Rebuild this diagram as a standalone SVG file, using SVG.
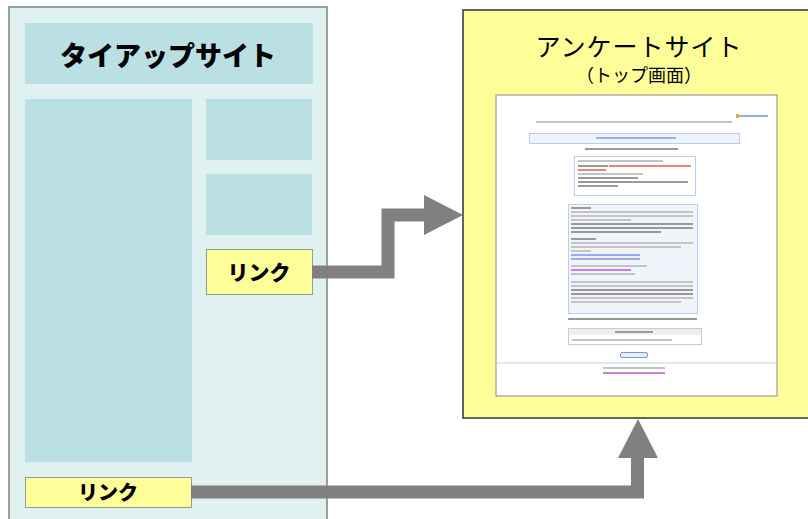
<svg xmlns="http://www.w3.org/2000/svg" width="808" height="519" viewBox="0 0 808 519">
<style>
.blk{fill:#BBE0E3}
.lnk{fill:#FFFF99;stroke:#999999;stroke-width:1}
.jb{font-family:"Noto Sans CJK JP","Noto Sans CJK SC",sans-serif;font-weight:900;fill:#000;text-anchor:middle}
.jr{font-family:"Noto Sans CJK JP","Noto Sans CJK SC",sans-serif;fill:#000;text-anchor:middle}
.conn{fill:none;stroke:#808080;stroke-width:13;stroke-linejoin:miter;stroke-linecap:butt}
.head{fill:#808080}
.tx{fill:#C4C4C4}
.txd{fill:#999999}
.txb{fill:#99AAEE}
.txr{fill:#F08080}
.txp{fill:#C880D8}
</style>
<rect width="808" height="519" fill="#FFFFFF"/>
<g id="tieup-site">
<rect x="9" y="7" width="318" height="520" fill="#DFF1F1" stroke="#808080" stroke-width="1.5"/>
<rect id="tieup-header" class="blk" x="25" y="23" width="288" height="61"/>
<text class="jb" x="168" y="66" font-size="27">タイアップサイト</text>
<rect id="tieup-main" class="blk" x="25" y="99" width="167" height="363"/>
<rect id="tieup-side1" class="blk" x="206" y="99" width="106" height="61"/>
<rect id="tieup-side2" class="blk" x="206" y="174" width="106" height="61"/>
</g>
<g id="link1">
<rect class="lnk" x="206.5" y="249.5" width="106" height="45"/>
<text class="jb" x="259" y="280" font-size="21">リンク</text>
</g>
<g id="link2">
<rect class="lnk" x="25.5" y="477.5" width="166" height="30"/>
<text class="jb" x="108" y="500" font-size="20">リンク</text>
</g>
<g id="survey-site">
<rect x="463" y="10" width="350" height="408" fill="#FFFF99" stroke="#333333" stroke-width="1.5"/>
<text class="jr" x="639" y="56" font-size="25" letter-spacing="1">アンケートサイト</text>
<text class="jr" x="639" y="82" font-size="18">（トップ画面）</text>
<g id="screenshot">
<rect x="496" y="95" width="281" height="301" fill="#FFFFFF" stroke="#888888" stroke-width="1"/>
<rect class="tx" x="536" y="121" width="196" height="2"/>
<rect x="738" y="115" width="30" height="2" fill="#99AADD"/>
<rect x="736" y="114" width="3" height="4" fill="#E0B030"/>
<rect x="529.5" y="133.5" width="210" height="10" fill="#EEF4FC" stroke="#BBCCEE" stroke-width="1"/>
<rect class="txb" x="596" y="137" width="80" height="2"/>
<rect class="txd" x="585" y="148" width="93" height="2"/>
<rect x="574.5" y="156.5" width="121" height="39" fill="#FFFFFF" stroke="#BBCCEE" stroke-width="1"/>
<rect class="tx" x="578" y="160" width="85" height="2"/>
<rect class="txd" x="578" y="165" width="30" height="2"/>
<rect class="txr" x="609" y="165" width="82" height="2"/>
<rect class="txr" x="578" y="169" width="28" height="2"/>
<rect class="tx" x="578" y="173" width="65" height="2"/>
<rect class="txd" x="578" y="177" width="60" height="2"/>
<rect class="txd" x="578" y="181" width="110" height="2"/>
<rect class="txd" x="578" y="185" width="40" height="2"/>
<rect x="568.5" y="204.5" width="129" height="109" fill="#F0F5FC" stroke="#BBCCEE" stroke-width="1"/>
<rect class="txd" x="571" y="207" width="20" height="2"/>
<rect class="tx" x="571" y="211" width="122" height="2"/>
<rect class="tx" x="571" y="215" width="122" height="2"/>
<rect class="tx" x="571" y="219" width="60" height="2"/>
<rect class="txd" x="571" y="223" width="122" height="2"/>
<rect class="txd" x="571" y="227" width="122" height="2"/>
<rect class="txd" x="571" y="231" width="90" height="2"/>
<rect class="txd" x="571" y="238" width="25" height="2"/>
<rect class="tx" x="571" y="242" width="122" height="2"/>
<rect class="tx" x="571" y="246" width="110" height="2"/>
<rect class="tx" x="571" y="250" width="20" height="2"/>
<rect class="txb" x="571" y="254" width="69" height="2"/>
<rect class="txb" x="571" y="258" width="69" height="2"/>
<rect class="tx" x="571" y="265" width="76" height="2"/>
<rect class="txp" x="571" y="269" width="60" height="2"/>
<rect class="tx" x="571" y="273" width="64" height="2"/>
<rect class="tx" x="571" y="281" width="122" height="2"/>
<rect class="tx" x="571" y="285" width="122" height="2"/>
<rect class="txd" x="571" y="289" width="122" height="2"/>
<rect class="txd" x="571" y="293" width="122" height="2"/>
<rect class="tx" x="571" y="297" width="122" height="2"/>
<rect class="tx" x="571" y="301" width="110" height="2"/>
<rect class="txd" x="568" y="318" width="129" height="2"/>
<rect x="568.5" y="328.5" width="133" height="16" fill="#FFFFFF" stroke="#CCCCCC" stroke-width="1"/>
<rect x="569" y="329" width="132" height="6" fill="#EEEEEE"/>
<rect class="txd" x="615" y="331" width="38" height="2"/>
<rect class="tx" x="572" y="339" width="100" height="2"/>
<rect x="620.5" y="352.5" width="27" height="5" rx="1.5" fill="#E8EEF8" stroke="#7799CC" stroke-width="1"/>
<rect x="497" y="362" width="279" height="2" fill="#E0E8F4"/>
<rect class="tx" x="603" y="367" width="62" height="2"/>
<rect class="txp" x="603" y="372" width="62" height="2"/>
</g>
</g>
<g id="connectors">
<polyline class="conn" points="312,272 388,272 388,215 425,215"/>
<polygon class="head" points="424,195 463,215 424,235"/>
<polyline class="conn" points="191,492 637.5,492 637.5,457"/>
<polygon class="head" points="618,458 638,419 658,458"/>
</g>
</svg>
